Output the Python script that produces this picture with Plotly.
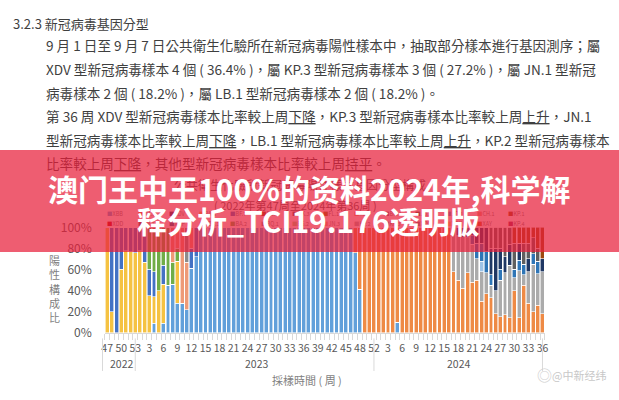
import plotly.graph_objects as go

W, H = 619, 400

# ---------------- data ----------------
weeks_2022 = [47, 48, 49, 50, 51, 52, 53]
weeks_2023 = [1, 2, 3, 4, 5, 6, 7, 8, 9, 10, 11, 12, 13, 14, 15, 16, 17, 18, 19, 20,
              21, 22, 23, 24, 25, 26, 27, 28, 29, 30, 31, 32, 33, 34, 35, 36, 37, 38, 39, 40,
              41, 42, 43, 44, 45, 46, 47, 48, 49, 50, 52]
weeks_2024 = [1, 2, 3, 4, 5, 6, 7, 8, 9, 10, 11, 12, 13, 14, 15, 16, 17, 18, 19, 20,
              21, 22, 23, 24, 25, 26, 27, 28, 29, 30, 31, 32, 33, 34, 35, 36]
years = ["2022", "2023", "2024"]

# share of each lineage per week (%): 7 weeks of 2022, 51 of 2023, 36 of 2024
xbb = [0, 0, 0, 0, 0, 0, 0,
       0, 0, 0, 9, 0, 9, 45, 46, 28, 28, 22, 61, 72,
       100, 100, 100, 100, 100, 100, 100, 100, 100, 100, 100, 100, 100, 100, 100, 100, 100,
       100, 100, 100, 100, 100, 100, 100, 100, 100, 100, 100, 100, 100, 100, 100, 100, 76, 41, 0, 0, 0,
       0, 0, 0, 0, 10, 0, 0, 0, 0, 0, 0, 0, 0, 0, 0, 0, 0, 0, 0, 0, 0, 0, 0, 0, 0, 0, 0, 0, 0,
       0, 0, 0, 0, 0, 0]
ba5 = [100, 20, 0, 60, 78, 77, 76,
       78, 67, 35, 25, 40, 37, 0, 0, 40, 0, 0, 0, 0,
       0, 0, 0, 0, 0, 0, 0, 0, 0, 0, 0, 0, 0, 0, 0, 0, 0,
       0, 0, 0, 0, 0, 0, 0, 0, 0, 0, 0, 0, 0, 0, 0, 0, 0, 0, 0, 0, 0,
       0, 0, 0, 0, 0, 0, 0, 0, 0, 0, 0, 0, 0, 0, 0, 0, 0, 0, 0, 0, 0, 0, 0, 0, 0, 0, 0, 0, 0, 0,
       0, 0, 0, 0, 0, 0]
bf7 = [0, 80, 100, 40, 22, 23, 24,
       22, 33, 25, 24, 0, 18, 0, 0, 0, 0, 0, 19, 28,
       0, 0, 0, 0, 0, 0, 0, 0, 0, 0, 0, 0, 0, 0, 0, 0, 0,
       0, 0, 0, 0, 0, 0, 0, 0, 0, 0, 0, 0, 0, 0, 0, 0, 0, 0, 0, 0, 0,
       0, 0, 0, 0, 0, 0, 0, 0, 0, 0, 0, 0, 0, 0, 0, 0, 0, 0, 0, 0, 0, 0, 0, 0, 0, 0, 0, 0, 0, 0,
       0, 0, 0, 0, 0, 0]
ba275 = [0, 0, 0, 0, 0, 0, 0,
         0, 0, 40, 42, 60, 36, 55, 21, 12, 0, 0, 0, 0,
         0, 0, 0, 0, 0, 0, 0, 0, 0, 0, 0, 0, 0, 0, 0, 0, 0,
         0, 0, 0, 0, 0, 0, 0, 0, 0, 0, 0, 0, 0, 0, 0, 0, 0, 0, 0, 0, 0,
         0, 0, 0, 0, 0, 0, 0, 0, 0, 0, 0, 0, 0, 0, 0, 0, 0, 0, 0, 0, 0, 0, 0, 0, 0, 0, 0, 0, 0, 0,
         0, 0, 0, 0, 0, 0]
ch1 = [0, 0, 0, 0, 0, 0, 0,
       0, 0, 0, 0, 0, 0, 0, 33, 20, 72, 45, 20, 0,
       0, 0, 0, 0, 0, 0, 0, 0, 0, 0, 0, 0, 0, 0, 0, 0, 0,
       0, 0, 0, 0, 0, 0, 0, 0, 0, 0, 0, 0, 0, 0, 0, 0, 0, 0, 0, 0, 0,
       0, 0, 0, 0, 0, 0, 0, 0, 0, 0, 0, 0, 0, 0, 0, 0, 0, 0, 0, 0, 0, 0, 0, 0, 0, 0, 0, 0, 0, 0,
       0, 0, 0, 0, 0, 0]
bq1 = [0, 0, 0, 0, 0, 0, 0,
       0, 0, 0, 0, 0, 0, 0, 0, 0, 0, 33, 0, 0,
       0, 0, 0, 0, 0, 0, 0, 0, 0, 0, 0, 0, 0, 0, 0, 0, 0,
       0, 0, 0, 0, 0, 0, 0, 0, 0, 0, 0, 0, 0, 0, 0, 0, 0, 0, 0, 0, 0,
       0, 0, 0, 0, 0, 0, 0, 0, 0, 0, 0, 0, 0, 0, 0, 0, 0, 0, 0, 0, 0, 0, 0, 0, 0, 0, 0, 0, 0, 0,
       0, 0, 0, 0, 0, 0]
jn1 = [0, 0, 0, 0, 0, 0, 0,
       0, 0, 0, 0, 0, 0, 0, 0, 0, 0, 0, 0, 0,
       0, 0, 0, 0, 0, 0, 0, 0, 0, 0, 0, 0, 0, 0, 0, 0, 0,
       0, 0, 0, 0, 0, 0, 0, 0, 0, 0, 0, 0, 0, 0, 0, 0, 24, 59, 100, 100, 100,
       100, 100, 100, 100, 90, 100, 100, 100, 100, 100, 100, 100, 100, 100, 100, 100,
       58, 50, 42, 57, 48, 50, 30, 37, 33, 18, 15, 17, 14, 40, 14, 45, 28, 20, 26, 18]
kp2 = [0, 0, 0, 0, 0, 0, 0,
       0, 0, 0, 0, 0, 0, 0, 0, 0, 0, 0, 0, 0,
       0, 0, 0, 0, 0, 0, 0, 0, 0, 0, 0, 0, 0, 0, 0, 0, 0,
       0, 0, 0, 0, 0, 0, 0, 0, 0, 0, 0, 0, 0, 0, 0, 0, 0, 0, 0, 0, 0,
       0, 0, 0, 0, 0, 0, 0, 0, 0, 0, 0, 0, 0, 0, 0, 0,
       42, 42, 48, 33, 36, 20, 28, 20, 12, 22, 35, 40, 50, 12, 45, 10, 30, 45, 30, 40]
kp11 = [0, 0, 0, 0, 0, 0, 0,
        0, 0, 0, 0, 0, 0, 0, 0, 0, 0, 0, 0, 0,
        0, 0, 0, 0, 0, 0, 0, 0, 0, 0, 0, 0, 0, 0, 0, 0, 0,
        0, 0, 0, 0, 0, 0, 0, 0, 0, 0, 0, 0, 0, 0, 0, 0, 0, 0, 0, 0, 0,
        0, 0, 0, 0, 0, 0, 0, 0, 0, 0, 0, 0, 0, 0, 0, 0,
        0, 0, 0, 0, 0, 0, 10, 0, 0, 0, 0, 0, 0, 0, 0, 0, 0, 0, 0, 0]
kp3 = [0, 0, 0, 0, 0, 0, 0,
       0, 0, 0, 0, 0, 0, 0, 0, 0, 0, 0, 0, 0,
       0, 0, 0, 0, 0, 0, 0, 0, 0, 0, 0, 0, 0, 0, 0, 0, 0,
       0, 0, 0, 0, 0, 0, 0, 0, 0, 0, 0, 0, 0, 0, 0, 0, 0, 0, 0, 0, 0,
       0, 0, 0, 0, 0, 0, 0, 0, 0, 0, 0, 0, 0, 0, 0, 0,
       0, 0, 0, 10, 8, 15, 17, 20, 10, 0, 10, 0, 0, 8, 10, 10, 0, 10, 12, 0]
xdv = [0, 0, 0, 0, 0, 0, 0,
       0, 0, 0, 0, 0, 0, 0, 0, 0, 0, 0, 0, 0,
       0, 0, 0, 0, 0, 0, 0, 0, 0, 0, 0, 0, 0, 0, 0, 0, 0,
       0, 0, 0, 0, 0, 0, 0, 0, 0, 0, 0, 0, 0, 0, 0, 0, 0, 0, 0, 0, 0,
       0, 0, 0, 0, 0, 0, 0, 0, 0, 0, 0, 0, 0, 0, 0, 0,
       0, 8, 10, 0, 8, 15, 15, 23, 25, 40, 20, 15, 20, 0, 16, 0, 12, 0, 0, 12]
lb1 = [0, 0, 0, 0, 0, 0, 0,
       0, 0, 0, 0, 0, 0, 0, 0, 0, 0, 0, 0, 0,
       0, 0, 0, 0, 0, 0, 0, 0, 0, 0, 0, 0, 0, 0, 0, 0, 0,
       0, 0, 0, 0, 0, 0, 0, 0, 0, 0, 0, 0, 0, 0, 0, 0, 0, 0, 0, 0, 0,
       0, 0, 0, 0, 0, 0, 0, 0, 0, 0, 0, 0, 0, 0, 0, 0,
       0, 0, 0, 0, 0, 0, 0, 0, 20, 20, 20, 28, 16, 25, 0, 20, 15, 15, 12, 0]
kp1 = [0, 0, 0, 0, 0, 0, 0,
       0, 0, 0, 0, 0, 0, 0, 0, 0, 0, 0, 0, 0,
       0, 0, 0, 0, 0, 0, 0, 0, 0, 0, 0, 0, 0, 0, 0, 0, 0,
       0, 0, 0, 0, 0, 0, 0, 0, 0, 0, 0, 0, 0, 0, 0, 0, 0, 0, 0, 0, 0,
       0, 0, 0, 0, 0, 0, 0, 0, 0, 0, 0, 0, 0, 0, 0, 0,
       0, 0, 0, 0, 0, 0, 0, 0, 0, 0, 0, 0, 0, 15, 15, 15, 15, 10, 20, 30]

series = [
    ("XBB", xbb, "#62A0DA"),
    ("BA.5", ba5, "#F5C242"),
    ("BF.7", bf7, "#4472C4"),
    ("BA.2.75", ba275, "#70AD47"),
    ("CH.1", ch1, "#EE9A78"),
    ("BQ.1", bq1, "#8C8C8C"),
    ("JN.1", jn1, "#EE8A45"),
    ("KP.2", kp2, "#ABABAB"),
    ("KP.1.1", kp11, "#9DC3E6"),
    ("KP.3", kp3, "#2E75B6"),
    ("XDV", xdv, "#203864"),
    ("LB.1", lb1, "#5F5F5F"),
    ("KP.1", kp1, "#9E480E"),
]

legend_row1 = ["XBB", "JN.1", "XDV", "BA.5", "BF.7", "EG.5", "HK.3", "FL.1", "XBC", "BN.1", "JD.1",
               "JQ.1", "CH.1", "KP.1"]
legend_row2 = ["XDD", "LB.1", "XDP", "XBB.1", "BA.2", "BQ.1", "EG.2", "JN.3", "KP.2", "KP.3", "XDQ",
               "XDK", "XAY", "KP.4"]
legend_colors = ["#62A0DA", "#EE8A45", "#203864", "#F5C242", "#4472C4", "#9E480E", "#636363", "#997300",
                 "#F0A07A", "#7F6084", "#43682B", "#698ED0", "#EE9A78", "#9E480E",
                 "#C00000", "#5F5F5F", "#255E91", "#62A0DA", "#70AD47", "#8C8C8C", "#A9D18E", "#F4B183",
                 "#ABABAB", "#2E75B6", "#7F7F7F", "#FFD966", "#D26012", "#9B2B5A"]

# ---------------- figure ----------------
labels = [str(w) for w in weeks_2022 + weeks_2023 + weeks_2024]
idx = list(range(len(labels)))

fig = go.Figure()
for name, vals, col in series:
    fig.add_trace(go.Bar(x=idx, y=vals, name=name, marker=dict(color=col, line=dict(color="white", width=0.6))))

PL, PR, PT, PB = 103, 548, 227, 337
fig.update_layout(
    width=W, height=H, margin=dict(l=0, r=0, t=0, b=0),
    paper_bgcolor="white", plot_bgcolor="white",
    barmode="stack", bargap=0.16, showlegend=False,
    font=dict(family="Noto Sans CJK TC, Noto Sans, sans-serif", color="#595959"),
    xaxis=dict(domain=[PL / W, PR / W], range=[-0.5, len(idx) - 0.5],
               tickmode="array", tickvals=idx[::3], ticktext=labels[::3],
               tickfont=dict(size=10.5, color="#595959"), ticks="", showgrid=False,
               showline=True, linecolor="#D9D9D9", zeroline=False, ticklabelstandoff=6,
               minor=dict(tickmode="array", tickvals=[i - 0.5 for i in idx] + [len(idx) - 0.5],
                          ticks="outside", ticklen=6, tickcolor="#D9D9D9")),
    yaxis=dict(domain=[1 - PB / H, 1 - PT / H], range=[0, 100],
               tickvals=[0, 20, 40, 60, 80, 100], ticktext=["0%", "20%", "40%", "60%", "80%", "100%"],
               tickfont=dict(size=12, color="#595959"), showgrid=False, zeroline=False,
               showline=False, ticklabelstandoff=12),
)

def px_y(py):
    return 1 - py / H

ann = []
def text(x, y, s, size=13, color="#3F3F3F", anchor="left", family=None, **kw):
    d = dict(xref="paper", yref="paper", x=x / W, y=px_y(y), text=s, showarrow=False,
             xanchor=anchor, yanchor="middle", font=dict(size=size, color=color), align=anchor)
    if family:
        d["font"]["family"] = family
    d.update(kw)
    ann.append(d)

# document text
text(8, 14, "3.2.3 新冠病毒基因分型", size=13)
para = [
    "9 月 1 日至 9 月 7 日公共衛生化驗所在新冠病毒陽性樣本中，抽取部分樣本進行基因測序；屬",
    "XDV 型新冠病毒樣本 4 個 ( 36.4% )，屬 KP.3 型新冠病毒樣本 3 個 ( 27.2% )，屬 JN.1 型新冠",
    "病毒樣本 2 個 ( 18.2% )，屬 LB.1 型新冠病毒樣本 2 個 ( 18.2% )。",
    "第 36 周 XDV 型新冠病毒樣本比率較上周<u>下降</u>，KP.3 型新冠病毒樣本比率較上周<u>上升</u>，JN.1",
    "型新冠病毒樣本比率較上周<u>下降</u>，LB.1 型新冠病毒樣本比率較上周<u>上升</u>，KP.2 型新冠病毒樣本",
    "比率較上周<u>下降</u>，其他型新冠病毒樣本比率較上周<u>持平</u>。",
]
for k, s in enumerate(para):
    text(41, 37 + k * 24.6, s, size=13.6)

# chart title & legend (under the banner)
text(300, 182, "公共衛生化驗所新冠病毒陽性樣本基因分型構成", size=12, color="#595959", anchor="center")
text(296, 204, "( 2022年第47周至2024年第36周 )", size=11, color="#595959", anchor="center")
for row, items, yy in [(0, legend_row1, 213), (1, legend_row2, 223)]:
    for j, nm in enumerate(items):
        text(103 + j * 31.2, yy, '<span style="color:%s">■</span>%s' % (legend_colors[row * 14 + j], nm),
             size=5.5, color="#7F7F7F")

# axis furniture
text(52, 291, "陽<br>性<br>構<br>成<br>比", size=11, color="#7F7F7F", anchor="center")
text(120, 369, years[0], size=10.5, color="#595959", anchor="center")
text(256, 369, years[1], size=10.5, color="#595959", anchor="center")
text(461, 369, years[2], size=10.5, color="#595959", anchor="center")
text(307, 386, "採樣時間 ( 周 )", size=11, color="#7F7F7F", anchor="center")
text(548, 381, "◎", size=15, color="#D0D0D0", anchor="center")
text(583, 381, "@中新经纬", size=11, color="#C8C8C8", anchor="center")

# banner overlay and its text
ann.append(dict(xref="paper", yref="paper", x=0.5, y=px_y(199), text=" ", showarrow=False,
                width=W + 4, height=102, bgcolor="rgba(231,30,58,0.72)", borderpad=0, borderwidth=0,
                xanchor="center", yanchor="middle"))
text(310, 186, "<b>澳门王中王100%的资料2024年,科学解</b>", size=30, color="white", anchor="center",
     family="Noto Sans CJK SC")
text(309, 219, "<b>释分析_TCI19.176透明版</b>", size=30, color="white", anchor="center",
     family="Noto Sans CJK SC")

fig.update_layout(annotations=ann)

# group dividers on the category axis
xd = lambda i: (PL + (i + 0.5) * (PR - PL) / len(idx)) / W
shapes = []
for i in [-1, 6, 57, 93]:
    shapes.append(dict(type="line", xref="paper", yref="paper", x0=xd(i), x1=xd(i),
                       y0=px_y(343), y1=px_y(377), line=dict(color="#D9D9D9", width=1)))
fig.update_layout(shapes=shapes)

fig.write_html("out.html")
